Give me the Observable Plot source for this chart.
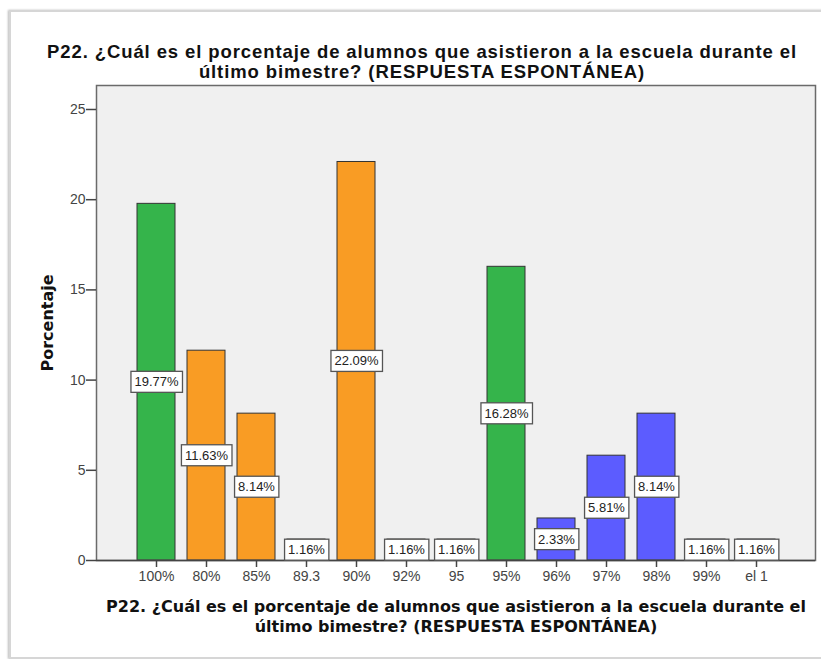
<!DOCTYPE html>
<html>
<head>
<meta charset="utf-8">
<script src="https://cdn.jsdelivr.net/npm/d3@7"></script>
<script src="https://cdn.jsdelivr.net/npm/@observablehq/plot@0.6"></script>
<style>
  html, body { margin: 0; padding: 0; background: #fff; overflow: hidden; }
  #wrap { position: relative; width: 821px; height: 659px; }
  #border { position: absolute; left: 9px; top: 10px; width: 840px; height: 645px;
            border: 2px solid #d6d6d6; box-shadow: -1px 0 2px #bbb; }
  #chart { position: absolute; left: 0; top: 0; }
</style>
</head>
<body>
<div id="wrap"><div id="border"></div><div id="chart"></div></div>
<script>
const categories = ["100%", "80%", "85%", "89.3", "90%", "92%", "95", "95%", "96%", "97%", "98%", "99%", "el 1"];
const values = [19.77, 11.63, 8.14, 1.16, 22.09, 1.16, 1.16, 16.28, 2.33, 5.81, 8.14, 1.16, 1.16];
const groups = ["g", "o", "o", "o", "o", "o", "o", "g", "b", "b", "b", "b", "b"];
const yTicks = [0, 5, 10, 15, 20, 25];
const titleText = "P22. ¿Cuál es el porcentaje de alumnos que asistieron a la escuela durante el\núltimo bimestre? (RESPUESTA ESPONTÁNEA)";
const yLabel = "Porcentaje";

const data = categories.map((c, i) => ({cat: c, value: values[i], group: groups[i], label: values[i].toFixed(2) + "%"}));
const colorMap = {g: "#35b44b", o: "#f99c24", b: "#5c5cff"};

const font = "'Liberation Sans', Arial, sans-serif";
const wideBold = "'DejaVu Sans', Verdana, sans-serif";

const plot = Plot.plot({
  width: 821,
  height: 659,
  marginLeft: 96,
  marginRight: 6,
  marginTop: 85,
  marginBottom: 99,
  style: {fontFamily: font, background: "transparent", overflow: "visible"},
  x: {type: "band", domain: categories, paddingInner: 0.24, paddingOuter: 0.81, label: null},
  y: {domain: [0, 26.33], label: null},
  marks: [
    Plot.frame({fill: "#f0f0f0", stroke: null}),
    Plot.barY(data, {x: "cat", y: "value", fill: d => colorMap[d.group], stroke: "#333", strokeWidth: 1}),
    Plot.frame({stroke: "#6a6a6a", strokeWidth: 1.5}),
    Plot.axisY({ticks: yTicks, tickSize: 10, tickPadding: 1, fontSize: 14, stroke: "#444", strokeWidth: 1.5, fill: "#444", label: null}),
    Plot.axisX({tickSize: 7, tickPadding: 4, fontSize: 14, stroke: "#444", strokeWidth: 1.5, fill: "#444", label: null}),
    Plot.ruleY([0], {stroke: "#444", strokeWidth: 1.5}),
    Plot.text(data, {x: "cat", y: d => d.value / 2, text: "label", fontSize: 13, fill: "#222"}),
    Plot.text([titleText], {frameAnchor: "top", lineAnchor: "bottom", dy: -8, dx: -34, fontSize: 18.5, fontWeight: "bold", lineHeight: 1.08, fill: "#111"}),
    Plot.text([titleText], {frameAnchor: "bottom", lineAnchor: "top", dy: 37, fontSize: 16, fontWeight: "bold", lineHeight: 1.25, fill: "#111", fontFamily: wideBold}),
    Plot.text([yLabel], {frameAnchor: "left", rotate: -90, textAnchor: "middle", dx: -49, fontSize: 16, fontWeight: "bold", fill: "#111", fontFamily: wideBold})
  ]
});

document.getElementById("chart").appendChild(plot);

// widen the top title slightly
const titles = Array.from(plot.querySelectorAll("text")).filter(t => t.textContent.startsWith("P22."));
if (titles.length) titles[0].style.letterSpacing = "0.9px";

// white boxes behind bar value labels
const svgNS = "http://www.w3.org/2000/svg";
plot.querySelectorAll("text").forEach(t => {
  if (/^\d+\.\d\d%$/.test(t.textContent)) {
    const b = t.getBBox();
    const r = document.createElementNS(svgNS, "rect");
    r.setAttribute("x", b.x - 3.5);
    r.setAttribute("y", b.y - 3);
    r.setAttribute("width", b.width + 7);
    r.setAttribute("height", b.height + 6);
    r.setAttribute("fill", "#fff");
    r.setAttribute("stroke", "#555");
    r.setAttribute("stroke-width", 1.3);
    const tr = t.getAttribute("transform");
    if (tr) r.setAttribute("transform", tr);
    t.parentNode.insertBefore(r, t);
  }
});
</script>
</body>
</html>
